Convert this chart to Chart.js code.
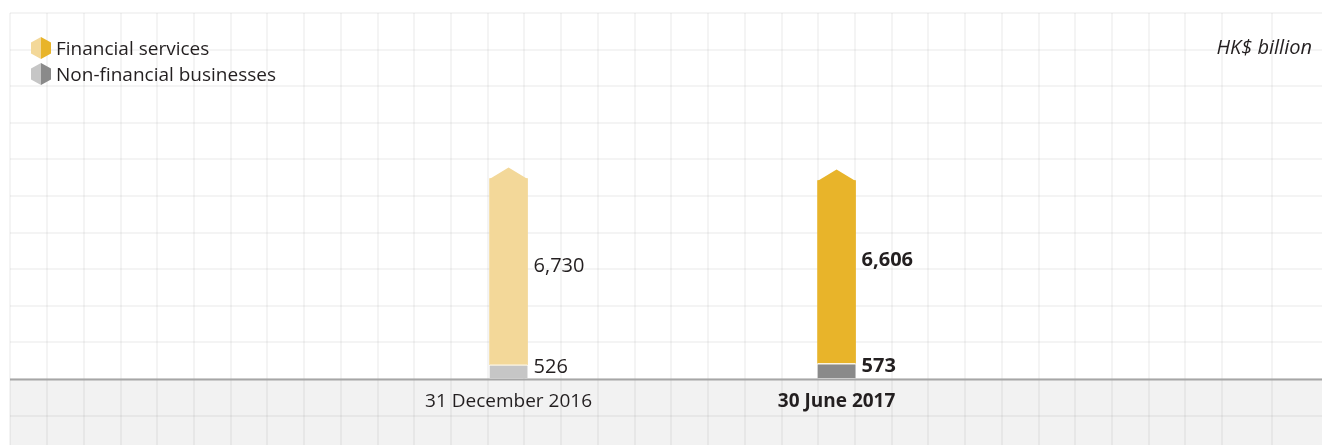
<!DOCTYPE html>
<html>
<head>
<meta charset="utf-8">
<script src="https://cdn.jsdelivr.net/npm/chart.js@4.4.1/dist/chart.umd.min.js"></script>
<style>
  html, body { margin: 0; padding: 0; background: #fff; }
  #wrap { position: relative; width: 1322px; height: 445px; font-family: "Open Sans", sans-serif; color: #231f20; }
  #legend { position: absolute; left: 31px; top: 35px; font-size: 19px; line-height: 26px; }
  #legend div { display: flex; align-items: center; }
  #legend svg { margin-right: 5px; }
  #unit { position: absolute; right: 10px; top: 34px; font-size: 20px; font-style: italic; line-height: 26px; }
</style>
</head>
<body>
<div id="wrap">
  <canvas id="myChart" width="1322" height="445"></canvas>
  <div id="legend"></div>
  <div id="unit">HK$ billion</div>
</div>
<script>
// dates shown on the x axis
const categories = ['31 December 2016', '30 June 2017'];
// HK$ billion
const financialServices = [6730, 6606];
const nonFinancial = [526, 573];
const valueLabels = { financial: ['6,730', '6,606'], nonFinancial: ['526', '573'] };

// colours: 2016 light, 2017 strong
const finColors = ['#f3d899', '#e8b42a'];
const nonFinColors = ['#c6c6c6', '#8a8a8a'];
const boldCat = [false, true];

const STEP = 1324; // one grid square on the value axis
const gridColor = 'rgba(0,0,0,0.045)';

// legend (html)
const legendItems = [
  { text: 'Financial services', c: finColors },
  { text: 'Non-financial businesses', c: nonFinColors }
];
document.getElementById('legend').innerHTML = legendItems.map(it =>
  '<div><svg width="20" height="22" viewBox="0 0 20 22">' +
  '<polygon points="10,0 10,22 0,16.5 0,5.5" fill="' + it.c[0] + '"/>' +
  '<polygon points="10,0 20,5.5 20,16.5 10,22" fill="' + it.c[1] + '"/>' +
  '</svg><span>' + it.text + '</span></div>'
).join('');

// pad the category axis so the two bars sit near the middle
const labels = [''].concat(categories, ['']);
const pad = arr => [null].concat(arr, [null]);
const padC = arr => ['rgba(0,0,0,0)'].concat(arr, ['rgba(0,0,0,0)']);

const decor = {
  id: 'decor',
  beforeDraw(chart) {
    const { ctx, chartArea, scales } = chart;
    const y0 = scales.y.getPixelForValue(0);
    ctx.save();
    ctx.fillStyle = '#f2f2f2';
    ctx.fillRect(chartArea.left, y0, chartArea.right - chartArea.left, chartArea.bottom - y0);
    ctx.restore();
  },
  beforeDatasetsDraw(chart) {
    const { ctx, chartArea, scales } = chart;
    const y0 = scales.y.getPixelForValue(0);
    ctx.save();
    ctx.strokeStyle = '#a6a6a6';
    ctx.lineWidth = 2;
    ctx.beginPath();
    ctx.moveTo(chartArea.left, y0 + 0.5);
    ctx.lineTo(chartArea.right, y0 + 0.5);
    ctx.stroke();
    ctx.restore();
  },
  afterDatasetsDraw(chart) {
    const { ctx, scales } = chart;
    const y0 = scales.y.getPixelForValue(0);
    const low = chart.getDatasetMeta(0).data;
    const top = chart.getDatasetMeta(1).data;
    ctx.save();
    categories.forEach((cat, i) => {
      const b = top[i + 1], g = low[i + 1];
      // pointed cap on top bar
      const tip = b.width / 2 * 0.58;
      ctx.fillStyle = finColors[i];
      ctx.beginPath();
      ctx.moveTo(b.x - b.width / 2, b.y + 0.5);
      ctx.lineTo(b.x, b.y - tip);
      ctx.lineTo(b.x + b.width / 2, b.y + 0.5);
      ctx.closePath();
      ctx.fill();

      const w = boldCat[i] ? 'bold ' : '';
      ctx.fillStyle = '#231f20';
      ctx.textBaseline = 'middle';
      ctx.textAlign = 'left';
      ctx.font = w + '20px "Open Sans"';
      ctx.fillText(valueLabels.financial[i], b.x + b.width / 2 + 6, (b.y - tip + b.base) / 2 - (boldCat[i] ? 6 : 0));
      ctx.fillText(valueLabels.nonFinancial[i], g.x + g.width / 2 + 6, (g.y + g.base) / 2 - 4);

      ctx.textAlign = 'center';
      ctx.font = w + '19px "Open Sans"';
      ctx.fillText(cat, scales.x.getPixelForValue(i + 1), y0 + 22);
    });
    ctx.restore();
  }
};

new Chart(document.getElementById('myChart'), {
  type: 'bar',
  data: {
    labels: labels,
    datasets: [
      {
        label: 'Non-financial businesses',
        data: pad(nonFinancial),
        backgroundColor: padC(nonFinColors),
        borderColor: '#fbf4e2',
        borderWidth: { top: 1.5, left: 0, right: 0, bottom: 0 },
        borderSkipped: false,
        barThickness: 38,
        xAxisID: 'x'
      },
      {
        label: 'Financial services',
        data: pad(financialServices),
        backgroundColor: padC(finColors),
        borderWidth: 0,
        barThickness: 38,
        xAxisID: 'x'
      }
    ]
  },
  options: {
    responsive: false,
    animation: false,
    layout: { padding: { left: 10, top: 13, right: 0, bottom: 0 } },
    plugins: { legend: { display: false }, tooltip: { enabled: false } },
    scales: {
      x: {
        display: false, stacked: true, offset: true,
        afterDataLimits(scale) { scale.min = -0.02; scale.max = 3; }
      },
      xg: {
        type: 'linear', position: 'bottom', min: 0, max: 1312 / 37.8,
        ticks: { display: false, stepSize: 1 },
        grid: { color: gridColor, lineWidth: 2, drawTicks: false },
        border: { display: false }
      },
      y: {
        stacked: true, min: -1.8 * STEP, max: 10 * STEP,
        afterBuildTicks(scale) {
          const t = [];
          for (let v = -STEP; v <= 10 * STEP; v += STEP) t.push({ value: v });
          scale.ticks = t;
        },
        ticks: { display: false },
        grid: { color: gridColor, lineWidth: 2, drawTicks: false },
        border: { display: false }
      }
    }
  },
  plugins: [decor]
});
</script>
</body>
</html>
